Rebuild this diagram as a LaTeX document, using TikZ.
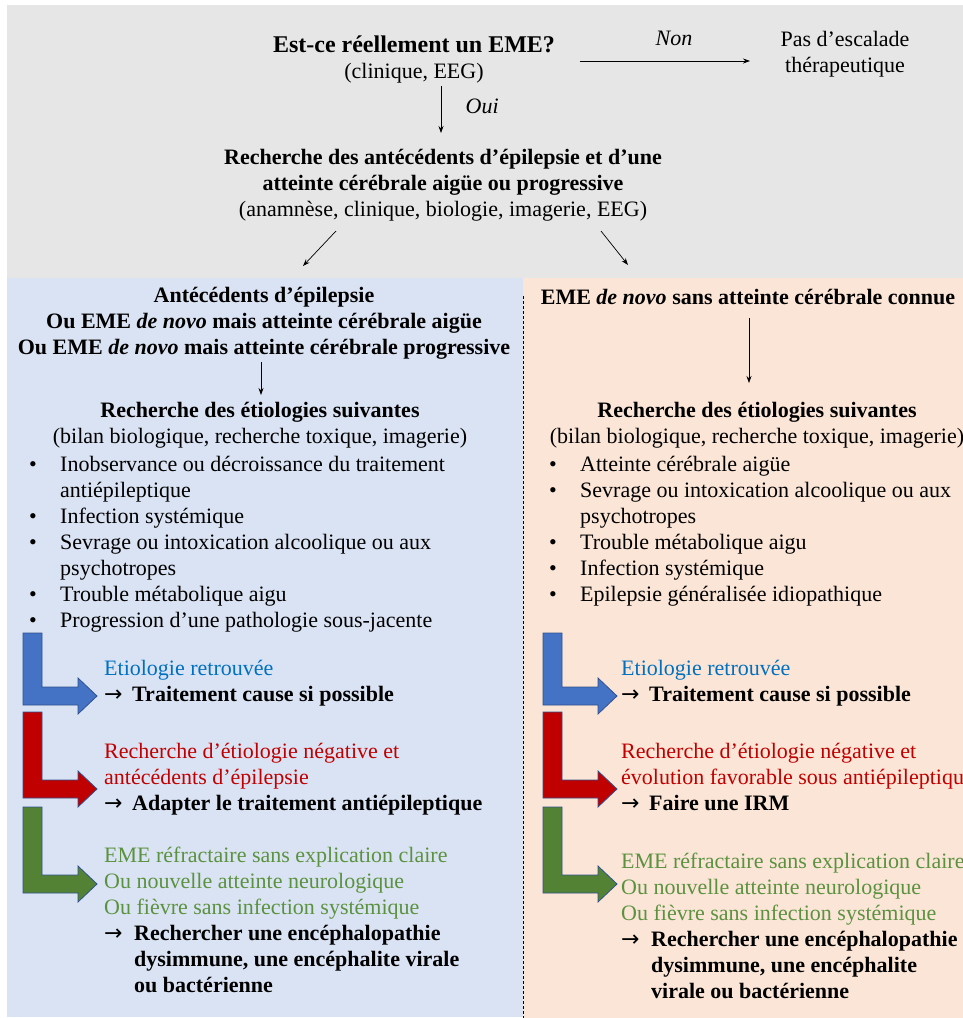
\documentclass[tikz,border=0pt]{standalone}
\usepackage{fontspec}
\setmainfont{Liberation Serif}
\newfontfamily\arwfont{DejaVu Sans}
\usetikzlibrary{arrows.meta,calc}
\definecolor{bggray}{HTML}{E7E6E6}
\definecolor{bgblue}{HTML}{DAE3F3}
\definecolor{bgpeach}{HTML}{FBE5D6}
\definecolor{arblue}{HTML}{4472C4}
\definecolor{arred}{HTML}{C00000}
\definecolor{argreen}{HTML}{548235}
\definecolor{arline}{HTML}{2F528F}
\definecolor{txblue}{HTML}{0070C0}
\definecolor{txred}{HTML}{C00000}
\definecolor{txgreen}{HTML}{5B9240}
\newcommand{\fs}{\fontsize{22}{26}\selectfont}
\newcommand{\thenarw}{\makebox[28pt][l]{\arwfont →}}
\begin{document}
\begin{tikzpicture}
[x=1pt,y=-1pt,
  txt/.style={inner sep=0pt,align=center,font=\fs},
  lst/.style={inner sep=0pt,anchor=north west,font=\fs},
  arr/.style={-{Stealth[length=7pt,width=5pt]},line width=0.7pt},
  bent/.style={draw=arline,line width=0.8pt,fill=#1},
  divider/.style={densely dashed,line width=0.6pt}]
\useasboundingbox (0,0) rectangle (963,1018);
%% background areas
\fill[bggray] (7,5) rectangle (963,278);
\fill[bgblue] (7,278) rectangle (523,1017);
\fill[bgpeach] (523,278) rectangle (963,1018);
\draw[divider] (523,296) -- (523,1018);
%% top part
\node (q) at (414,59) [txt] {{\fontsize{24}{27}\selectfont\bfseries Est-ce réellement un EME?}\\(clinique, EEG)};
\node (pas) at (845,54) [txt] {Pas d’escalade\\thérapeutique};
\node (rech) at (443,185) [txt] {\textbf{Recherche des antécédents d’épilepsie et d’une}\\
  \textbf{atteinte cérébrale aigüe ou progressive}\\(anamnèse, clinique, biologie, imagerie, EEG)};
%% panel titles
\node (ant) at (264,323) [txt,font=\fs\bfseries] {Antécédents d’épilepsie\\
  Ou EME \textit{de novo} mais atteinte cérébrale aigüe\\
  Ou EME \textit{de novo} mais atteinte cérébrale progressive};
\node (eme) at (748,297) [txt,font=\fs\bfseries] {EME \textit{de novo} sans atteinte cérébrale connue};
\node (etl) at (260,425) [txt] {\textbf{Recherche des étiologies suivantes}\\(bilan biologique, recherche toxique, imagerie)};
\node (etr) at (757,425) [txt] {\textbf{Recherche des étiologies suivantes}\\(bilan biologique, recherche toxique, imagerie)};
%% lists of etiologies
\node (listl) at (29,453) [lst] {\begin{tabular}{@{}p{31pt}@{}l@{}}
  \textbullet & Inobservance ou décroissance du traitement\\
   & antiépileptique\\
  \textbullet & Infection systémique\\
  \textbullet & Sevrage ou intoxication alcoolique ou aux\\
   & psychotropes\\
  \textbullet & Trouble métabolique aigu\\
  \textbullet & Progression d’une pathologie sous-jacente
  \end{tabular}};
\node (listr) at (549,453) [lst] {\begin{tabular}{@{}p{31pt}@{}l@{}}
  \textbullet & Atteinte cérébrale aigüe\\
  \textbullet & Sevrage ou intoxication alcoolique ou aux\\
   & psychotropes\\
  \textbullet & Trouble métabolique aigu\\
  \textbullet & Infection systémique\\
  \textbullet & Epilepsie généralisée idiopathique
  \end{tabular}};
%% bent arrows
\foreach \x in {23,543} {
  \foreach \yt/\yb/\c in {633/705/arblue, 712/798/arred, 807/893/argreen} {
    \draw[bent=\c] (\x,\yt) -- (\x+19,\yt) -- (\x+19,\yb-18) -- (\x+55,\yb-18)
      -- (\x+55,\yb-27) -- (\x+74,\yb-9) -- (\x+55,\yb+9) -- (\x+55,\yb) -- (\x,\yb) -- cycle;
  }
}
%% results, left
\node (okl) at (104,657) [lst] {\begin{tabular}{@{}l@{}}
  \textcolor{txblue}{Etiologie retrouvée}\\
  \thenarw\textbf{Traitement cause si possible}
  \end{tabular}};
\node (negl) at (104,740) [lst] {\begin{tabular}{@{}l@{}}
  \textcolor{txred}{Recherche d’étiologie négative et}\\
  \textcolor{txred}{antécédents d’épilepsie}\\
  \thenarw\textbf{Adapter le traitement antiépileptique}
  \end{tabular}};
\node (refl) at (104,844) [lst] {\begin{tabular}{@{}p{30pt}@{}l@{}}
  \multicolumn{2}{@{}l@{}}{\textcolor{txgreen}{EME réfractaire sans explication claire}}\\
  \multicolumn{2}{@{}l@{}}{\textcolor{txgreen}{Ou nouvelle atteinte neurologique}}\\
  \multicolumn{2}{@{}l@{}}{\textcolor{txgreen}{Ou fièvre sans infection systémique}}\\
  {\arwfont →} & \textbf{Rechercher une encéphalopathie}\\
   & \textbf{dysimmune, une encéphalite virale}\\
   & \textbf{ou bactérienne}
  \end{tabular}};
%% results, right
\node (okr) at (621,657) [lst] {\begin{tabular}{@{}l@{}}
  \textcolor{txblue}{Etiologie retrouvée}\\
  \thenarw\textbf{Traitement cause si possible}
  \end{tabular}};
\node (negr) at (621,740) [lst] {\begin{tabular}{@{}l@{}}
  \textcolor{txred}{Recherche d’étiologie négative et}\\
  \textcolor{txred}{évolution favorable sous antiépileptique}\\
  \thenarw\textbf{Faire une IRM}
  \end{tabular}};
\node (refr) at (621,850) [lst] {\begin{tabular}{@{}p{30pt}@{}l@{}}
  \multicolumn{2}{@{}l@{}}{\textcolor{txgreen}{EME réfractaire sans explication claire}}\\
  \multicolumn{2}{@{}l@{}}{\textcolor{txgreen}{Ou nouvelle atteinte neurologique}}\\
  \multicolumn{2}{@{}l@{}}{\textcolor{txgreen}{Ou fièvre sans infection systémique}}\\
  {\arwfont →} & \textbf{Rechercher une encéphalopathie}\\
   & \textbf{dysimmune, une encéphalite}\\
   & \textbf{virale ou bactérienne}
  \end{tabular}};
%% connectors
\draw[arr] ($(q.center)+(166,2)$) -- ($(pas.center)+(-95,7)$)
  node[midway,above=12pt,xshift=9pt,font=\fs\itshape] (non) {Non};
\draw[arr] ($(q.center)+(27,27)$) -- ($(rech.center)+(-2,-52)$)
  node[midway,right=21pt,yshift=3pt,font=\fs\itshape] (oui) {Oui};
\draw[arr] ($(rech.center)+(-107,46)$) -- ($(ant.center)+(39,-57)$);
\draw[arr] ($(rech.center)+(158,46)$) -- ($(eme.center)+(-120,-32)$);
\draw[arr] ($(ant.center)+(-3,39)$) -- ($(etl.center)+(1,-30)$);
\draw[arr] ($(eme.center)+(1,21)$) -- ($(etr.center)+(-8,-42)$);
\end{tikzpicture}
\end{document}
